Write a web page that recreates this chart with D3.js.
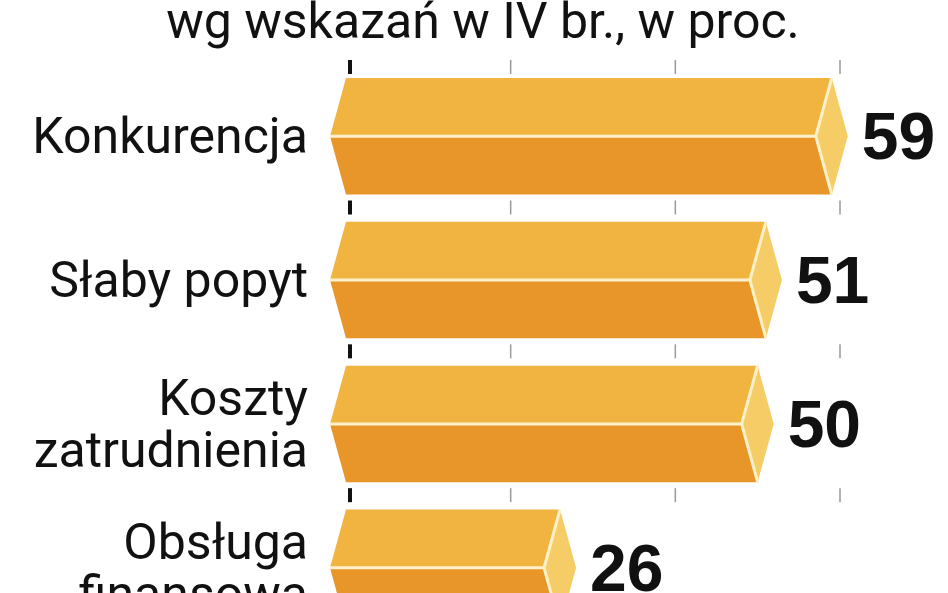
<!DOCTYPE html>
<html><head><meta charset="utf-8">
<script src="https://cdn.jsdelivr.net/npm/d3@7"></script>
<style>body{margin:0;background:#fff}</style>
</head><body>
<svg id="chart" width="948" height="593"></svg>
<script>
let categories=[["Konkurencja"],["Słaby popyt"],["Koszty","zatrudnienia"],["Obsługa","finansowa"]];
let values=[59,51,50,26];
let gridTicks=[0,20,40,60];
let title="wg wskazań w IV br., w proc.";

const svg=d3.select("#chart");
const x=d3.scaleLinear().domain([0,60]).range([346,840]);
const y=d3.scaleBand().domain(d3.range(values.length)).range([78,626]).paddingInner(0.19);
const font="Roboto,'Liberation Sans',sans-serif";

svg.append("text").attr("x",483).attr("y",38).attr("text-anchor","middle")
  .attr("font-family",font).attr("font-size",50).attr("fill","#111").text(title);

// grid stubs between bars
let gaps=[60].concat(d3.range(values.length).map(i=>y(i)+y.bandwidth()+6));
gaps.forEach(g=>{
  svg.selectAll(null).data(gridTicks).enter().append("line")
    .attr("x1",d=>x(d)+(d==0?4:0)).attr("x2",d=>x(d)+(d==0?4:0))
    .attr("y1",g).attr("y2",g+14)
    .attr("stroke",d=>d==0?"#111":"#999").attr("stroke-width",d=>d==0?4:1.5);
});

const bars=svg.selectAll("g.bar").data(values).enter().append("g");
bars.each(function(v,i){
  const g=d3.select(this),t=y(i),h=y.bandwidth(),m=t+h/2,x0=x(0),x1=x(v),d=16;
  g.append("path").attr("d",`M${x0},${t}L${x1},${t}L${x1-d},${m}L${x0-d},${m}Z`).attr("fill","#f2b440");
  g.append("path").attr("d",`M${x0-d},${m}L${x1-d},${m}L${x1},${t+h}L${x0},${t+h}Z`).attr("fill","#e8952a");
  g.append("path").attr("d",`M${x1},${t}L${x1+d},${m}L${x1},${t+h}L${x1-d},${m}Z`).attr("fill","#f6cc66");
  g.append("path").attr("d",`M${x0-d},${m}L${x1-d},${m}M${x1},${t}L${x1-d},${m}L${x1},${t+h}`)
    .attr("fill","none").attr("stroke","#fdf1cc").attr("stroke-width",3);
  g.append("text").attr("x",x1+d+14).attr("y",m+23).attr("font-family","'Liberation Sans',Arial,sans-serif")
    .attr("font-weight","bold").attr("font-size",66).attr("fill","#111").text(v);
  const lines=categories[i];
  lines.forEach((s,k)=>{
    g.append("text").attr("x",308).attr("y",m+17+(k-(lines.length-1)/2)*52).attr("text-anchor","end")
      .attr("font-family",font).attr("font-size",50).attr("fill","#111").text(s);
  });
});
</script>
</body></html>
